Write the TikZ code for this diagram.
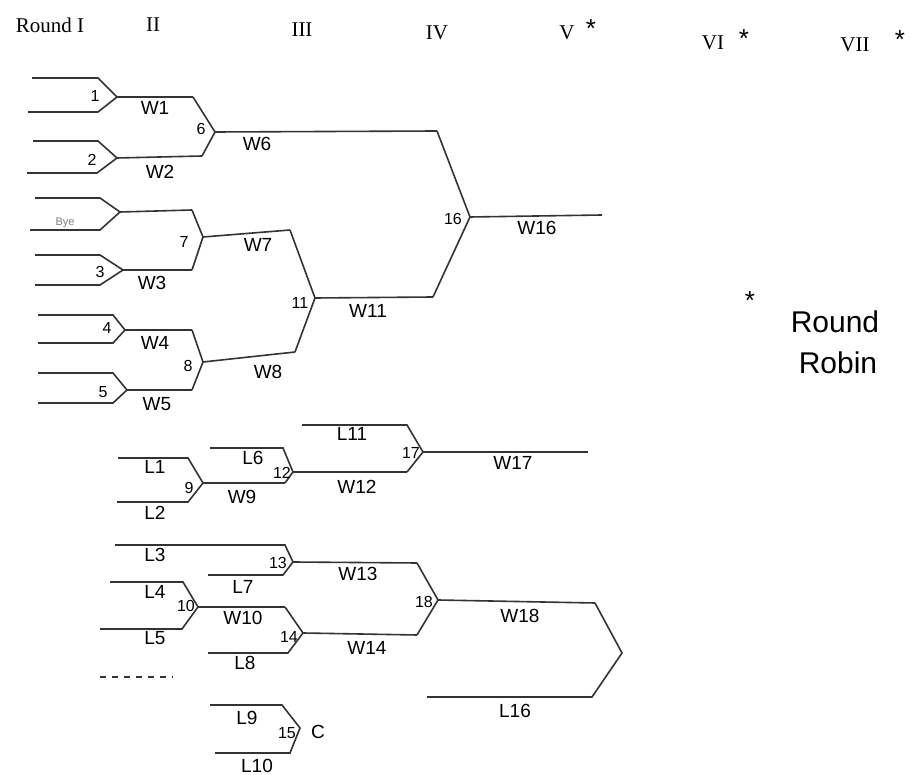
\documentclass[tikz,border=0pt]{standalone}
\usepackage{fontspec}
\setmainfont{Liberation Serif}
\setsansfont{Liberation Sans}

\begin{document}
\begin{tikzpicture}
[x=0.5pt,y=-0.5pt,
bline/.style={line width=0.8pt,draw=black!80},
hand/.style={font=\sffamily\fontsize{9.5}{10}\selectfont,inner sep=0pt},
num/.style={font=\sffamily\fontsize{8}{9}\selectfont,inner sep=0pt},
star/.style={font=\sffamily\fontsize{13}{14}\selectfont,inner sep=0pt},
rnd/.style={font=\fontsize{10.5}{12}\selectfont,inner sep=0pt},
robin/.style={font=\sffamily\fontsize{15}{18}\selectfont,inner sep=0pt}]
\useasboundingbox (0,0) rectangle (918,775);
%% round headers
\node (rI) [rnd] at (50,25) {Round I};
\node (rII) [rnd] at (153,25) {II};
\node (rIII) [rnd] at (302,30) {III};
\node (rIV) [rnd] at (437,33) {IV};
\node (rV) [rnd] at (567,33) {V};
\node (sV) [star] at (591,29) {*};
\node (rVI) [rnd] at (713,43) {VI};
\node (sVI) [star] at (744,39) {*};
\node (rVII) [rnd] at (855,45) {VII};
\node (sVII) [star] at (900,40) {*};
%%
\node (sR) [star] at (750,301) {*};
\node (rr1) [robin] at (835,322) {Round};
\node (rr2) [robin] at (838,363) {Robin};

%% winners, round I
\coordinate (a1) at (32,78);  \coordinate (a1k) at (98,78);
\coordinate (b1) at (28,112); \coordinate (b1k) at (98,112);
\coordinate (m1) at (117,97); \coordinate (w1) at (193,97);
\draw[bline] (a1) -- (a1k) -- (m1) -- (b1k) -- (b1);
\draw[bline] (m1) -- (w1);
\node (n1) [num] at (95,96) {1};
\node (lw1) [hand] at (155,108) {W1};
%%
\coordinate (a2) at (33,141); \coordinate (a2k) at (98,141);
\coordinate (b2) at (27,173); \coordinate (b2k) at (97,173);
\coordinate (m2) at (117,158); \coordinate (w2) at (202,156);
\draw[bline] (a2) -- (a2k) -- (m2) -- (b2k) -- (b2);
\draw[bline] (m2) -- (w2);
\node (n2) [num] at (92,160) {2};
\node (lw2) [hand] at (160,172) {W2};
%%
\coordinate (ab) at (35,198); \coordinate (abk) at (100,198);
\coordinate (bb) at (30,230); \coordinate (bbk) at (100,230);
\coordinate (mb) at (120,212); \coordinate (wb) at (192,210);
\draw[bline] (ab) -- (abk) -- (mb) -- (bbk) -- (bb);
\draw[bline] (mb) -- (wb);
\node (bye) [hand,font=\sffamily\fontsize{5.5}{6}\selectfont,black!50] at (65,223) {Bye};
%%
\coordinate (a3) at (35,255); \coordinate (a3k) at (100,255);
\coordinate (b3) at (35,285); \coordinate (b3k) at (100,285);
\coordinate (m3) at (123,270); \coordinate (w3) at (192,270);
\draw[bline] (a3) -- (a3k) -- (m3) -- (b3k) -- (b3);
\draw[bline] (m3) -- (w3);
\node (n3) [num] at (100,272) {3};
\node (lw3) [hand] at (152,283) {W3};
%%
\coordinate (a4) at (38,315); \coordinate (a4k) at (113,315);
\coordinate (b4) at (38,343); \coordinate (b4k) at (113,343);
\coordinate (m4) at (125,330); \coordinate (w4) at (192,330);
\draw[bline] (a4) -- (a4k) -- (m4) -- (b4k) -- (b4);
\draw[bline] (m4) -- (w4);
\node (n4) [num] at (107,328) {4};
\node (lw4) [hand] at (155,343) {W4};
%%
\coordinate (a5) at (38,373); \coordinate (a5k) at (113,373);
\coordinate (b5) at (38,403); \coordinate (b5k) at (113,403);
\coordinate (m5) at (127,390); \coordinate (w5) at (192,390);
\draw[bline] (a5) -- (a5k) -- (m5) -- (b5k) -- (b5);
\draw[bline] (m5) -- (w5);
\node (n5) [num] at (103,392) {5};
\node (lw5) [hand] at (157,404) {W5};

%% winners, rounds II to IV
\coordinate (m6) at (215,132); \coordinate (w6) at (437,131);
\draw[bline] (w1) -- (m6) -- (w2);
\draw[bline] (m6) -- (w6);
\node (n6) [num] at (201,129) {6};
\node (lw6) [hand] at (257,144) {W6};
%%
\coordinate (m7) at (203,237); \coordinate (w7) at (290,230);
\draw[bline] (wb) -- (m7) -- (w3);
\draw[bline] (m7) -- (w7);
\node (n7) [num] at (184,242) {7};
\node (lw7) [hand] at (258,245) {W7};
%%
\coordinate (m8) at (203,362); \coordinate (w8) at (295,352);
\draw[bline] (w4) -- (m8) -- (w5);
\draw[bline] (m8) -- (w8);
\node (n8) [num] at (188,366) {8};
\node (lw8) [hand] at (268,372) {W8};
%%
\coordinate (m11) at (315,298); \coordinate (w11) at (433,297);
\draw[bline] (w7) -- (m11) -- (w8);
\draw[bline] (m11) -- (w11);
\node (n11) [num] at (300,303) {11};
\node (lw11) [hand] at (368,311) {W11};
%%
\coordinate (m16) at (470,217); \coordinate (w16) at (602,215);
\draw[bline] (w6) -- (m16) -- (w11);
\draw[bline] (m16) -- (w16);
\node (n16) [num] at (453,219) {16};
\node (lw16) [hand] at (537,228) {W16};

%% losers
\coordinate (aL1) at (118,458); \coordinate (aL1k) at (188,458);
\coordinate (aL2) at (117,502); \coordinate (aL2k) at (188,502);
\coordinate (m9) at (203,483); \coordinate (w9) at (285,483);
\draw[bline] (aL1) -- (aL1k) -- (m9) -- (aL2k) -- (aL2);
\draw[bline] (m9) -- (w9);
\node (lL1) [hand] at (155,467) {L1};
\node (lL2) [hand] at (155,513) {L2};
\node (n9) [num] at (189,488) {9};
\node (lw9) [hand] at (242,497) {W9};
%%
\coordinate (aL6) at (210,448); \coordinate (aL6k) at (283,448);
\coordinate (m12) at (293,472); \coordinate (w12) at (407,472);
\draw[bline] (aL6) -- (aL6k) -- (m12) -- (w9);
\draw[bline] (m12) -- (w12);
\node (lL6) [hand] at (253,458) {L6};
\node (n12) [num] at (282,473) {12};
\node (lw12) [hand] at (357,487) {W12};
%%
\coordinate (aL11) at (302,425); \coordinate (aL11k) at (407,425);
\coordinate (m17) at (423,452); \coordinate (w17) at (588,452);
\draw[bline] (aL11) -- (aL11k) -- (m17) -- (w12);
\draw[bline] (m17) -- (w17);
\node (lL11) [hand] at (352,434) {L11};
\node (n17) [num] at (411,453) {17};
\node (lw17) [hand] at (513,463) {W17};
%%
\coordinate (aL3) at (115,545); \coordinate (aL3k) at (285,545);
\coordinate (aL7) at (208,575); \coordinate (aL7k) at (283,575);
\coordinate (m13) at (293,562); \coordinate (w13) at (417,563);
\draw[bline] (aL3) -- (aL3k) -- (m13) -- (aL7k) -- (aL7);
\draw[bline] (m13) -- (w13);
\node (lL3) [hand] at (155,555) {L3};
\node (lL7) [hand] at (243,587) {L7};
\node (n13) [num] at (278,563) {13};
\node (lw13) [hand] at (358,574) {W13};
%%
\coordinate (aL4) at (110,582); \coordinate (aL4k) at (183,582);
\coordinate (aL5) at (100,629); \coordinate (aL5k) at (182,629);
\coordinate (m10) at (198,607); \coordinate (w10) at (285,607);
\draw[bline] (aL4) -- (aL4k) -- (m10) -- (aL5k) -- (aL5);
\draw[bline] (m10) -- (w10);
\node (lL4) [hand] at (155,592) {L4};
\node (lL5) [hand] at (155,638) {L5};
\node (n10) [num] at (186,606) {10};
\node (lw10) [hand] at (243,618) {W10};
%%
\coordinate (aL8) at (208,653); \coordinate (aL8k) at (288,653);
\coordinate (m14) at (303,633); \coordinate (w14) at (417,635);
\draw[bline] (w10) -- (m14) -- (aL8k) -- (aL8);
\draw[bline] (m14) -- (w14);
\node (lL8) [hand] at (245,663) {L8};
\node (n14) [num] at (289,637) {14};
\node (lw14) [hand] at (367,648) {W14};
%%
\coordinate (m18) at (438,600); \coordinate (w18) at (595,603);
\draw[bline] (w13) -- (m18) -- (w14);
\draw[bline] (m18) -- (w18);
\node (n18) [num] at (424,602) {18};
\node (lw18) [hand] at (520,616) {W18};
%%
\coordinate (aL16) at (427,697); \coordinate (aL16k) at (592,697);
\coordinate (mf) at (622,653);
\draw[bline] (w18) -- (mf) -- (aL16k) -- (aL16);
\node (lL16) [hand] at (515,711) {L16};
%%
\coordinate (d1) at (100,677); \coordinate (d2) at (173,677);
\draw[bline,dashed] (d1) -- (d2);
%%
\coordinate (aL9) at (210,705); \coordinate (aL9k) at (282,705);
\coordinate (aL10) at (215,753); \coordinate (aL10k) at (290,753);
\coordinate (m15) at (300,728);
\draw[bline] (aL9) -- (aL9k) -- (m15) -- (aL10k) -- (aL10);
\node (lL9) [hand] at (247,718) {L9};
\node (lL10) [hand] at (257,766) {L10};
\node (n15) [num] at (287,733) {15};
\node (lc) [hand] at (318,732) {C};
\end{tikzpicture}
\end{document}
